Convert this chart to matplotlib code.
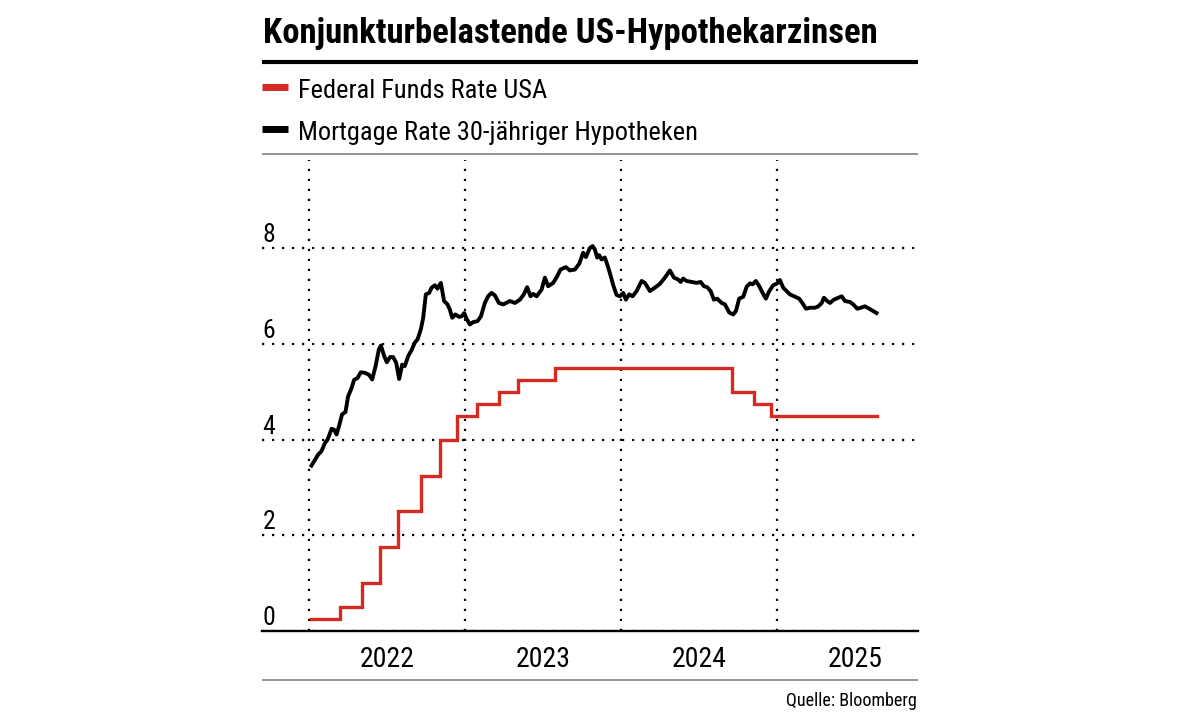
import matplotlib
matplotlib.use("Agg")
import matplotlib.pyplot as plt
from matplotlib import font_manager as fm
from matplotlib.lines import Line2D
from matplotlib.transforms import offset_copy

# ---------------- data ----------------
title = "Konjunkturbelastende US-Hypothekarzinsen"
label_fed = "Federal Funds Rate USA"
label_mort = "Mortgage Rate 30-jähriger Hypotheken"
source = "Quelle: Bloomberg"

year_ticks = [2022, 2023, 2024, 2025]
year_labels = ["2022", "2023", "2024", "2025"]
y_ticks = [0, 2, 4, 6, 8]
y_labels = ["0", "2", "4", "6", "8"]

# Federal Funds Rate (upper bound), change dates as decimal years
fed_t = [2022.015, 2022.20, 2022.34, 2022.455, 2022.57, 2022.72, 2022.84, 2022.95,
         2023.08, 2023.22, 2023.34, 2023.58, 2024.71, 2024.85, 2024.96, 2025.64]
fed_v = [0.25, 0.5, 1.0, 1.75, 2.5, 3.25, 4.0, 4.5,
         4.75, 5.0, 5.25, 5.5, 5.0, 4.75, 4.5, 4.5]

# 30-year mortgage rate
mort_t = [2022.017, 2022.060, 2022.081, 2022.103, 2022.120, 2022.146, 2022.162, 2022.178,
          2022.199, 2022.213, 2022.235, 2022.252, 2022.274, 2022.290, 2022.312, 2022.333,
          2022.359, 2022.385, 2022.406, 2022.428, 2022.449, 2022.462, 2022.483, 2022.500,
          2022.521, 2022.540, 2022.560, 2022.579, 2022.598, 2022.615, 2022.637, 2022.658,
          2022.679, 2022.697, 2022.718, 2022.733, 2022.750, 2022.771, 2022.787, 2022.808,
          2022.825, 2022.846, 2022.867, 2022.889, 2022.904, 2022.919, 2022.940, 2022.962,
          2022.979, 2022.996, 2023.011, 2023.032, 2023.053, 2023.081, 2023.103, 2023.128,
          2023.149, 2023.171, 2023.192, 2023.218, 2023.246, 2023.288, 2023.321, 2023.353,
          2023.378, 2023.399, 2023.421, 2023.438, 2023.460, 2023.492, 2023.513, 2023.534,
          2023.566, 2023.592, 2023.613, 2023.647, 2023.673, 2023.705, 2023.733, 2023.758,
          2023.776, 2023.801, 2023.819, 2023.833, 2023.848, 2023.861, 2023.876, 2023.897,
          2023.912, 2023.929, 2023.951, 2023.972, 2023.994, 2024.015, 2024.032, 2024.053,
          2024.075, 2024.101, 2024.133, 2024.154, 2024.186, 2024.218, 2024.250, 2024.282,
          2024.314, 2024.340, 2024.367, 2024.383, 2024.399, 2024.421, 2024.453, 2024.485,
          2024.511, 2024.532, 2024.553, 2024.575, 2024.596, 2024.617, 2024.646, 2024.667,
          2024.694, 2024.720, 2024.737, 2024.758, 2024.784, 2024.806, 2024.827, 2024.844,
          2024.865, 2024.887, 2024.908, 2024.929, 2024.951, 2024.976, 2025.002, 2025.019,
          2025.040, 2025.062, 2025.083, 2025.109, 2025.143, 2025.165, 2025.186, 2025.212,
          2025.244, 2025.265, 2025.287, 2025.301, 2025.322, 2025.340, 2025.365, 2025.393,
          2025.415, 2025.436, 2025.468, 2025.489, 2025.515, 2025.537, 2025.564, 2025.592,
          2025.617, 2025.638]
mort_v = [3.46, 3.69, 3.76, 3.93, 4.00, 4.23, 4.21, 4.11,
          4.35, 4.53, 4.58, 4.91, 5.08, 5.25, 5.29, 5.41,
          5.40, 5.36, 5.26, 5.54, 5.89, 5.97, 5.75, 5.62,
          5.73, 5.73, 5.61, 5.27, 5.57, 5.54, 5.75, 5.87,
          6.03, 6.10, 6.31, 6.55, 7.04, 7.07, 7.18, 7.23,
          7.16, 7.28, 6.90, 6.83, 6.72, 6.55, 6.62, 6.57,
          6.58, 6.65, 6.53, 6.41, 6.46, 6.48, 6.58, 6.86,
          7.00, 7.07, 7.02, 6.86, 6.83, 6.90, 6.86, 6.93,
          7.04, 7.19, 7.00, 7.05, 7.00, 7.14, 7.39, 7.21,
          7.28, 7.42, 7.56, 7.61, 7.54, 7.56, 7.68, 7.91,
          7.82, 8.01, 8.05, 7.98, 7.81, 7.86, 7.77, 7.81,
          7.67, 7.49, 7.23, 7.03, 7.00, 7.07, 6.93, 7.04,
          7.00, 7.11, 7.32, 7.28, 7.11, 7.18, 7.26, 7.39,
          7.54, 7.39, 7.35, 7.30, 7.37, 7.32, 7.30, 7.28,
          7.30, 7.21, 7.19, 7.11, 6.93, 6.95, 6.86, 6.83,
          6.66, 6.62, 6.69, 6.95, 6.99, 7.20, 7.27, 7.25,
          7.32, 7.21, 7.07, 6.95, 7.11, 7.23, 7.27, 7.34,
          7.18, 7.11, 7.04, 7.00, 6.95, 6.85, 6.74, 6.76,
          6.76, 6.79, 6.86, 6.97, 6.90, 6.86, 6.93, 6.97,
          7.00, 6.90, 6.88, 6.83, 6.74, 6.76, 6.79, 6.74,
          6.69, 6.65]

RED = "#d42a22"
GRAY = "#8a8a8a"

# ---------------- fonts ----------------
avail = {f.name for f in fm.fontManager.ttflist}
narrow = None
for cand in ["Roboto Condensed", "Liberation Sans Narrow", "Open Sans Condensed", "Roboto"]:
    if cand in avail:
        narrow = cand
        break
if narrow is None:
    narrow = "DejaVu Sans"
plt.rcParams["font.family"] = [narrow, "DejaVu Sans"]

W, H = 1179, 713
fig = plt.figure(figsize=(W / 100, H / 100), dpi=100)
fig.patch.set_facecolor("white")


def fx(px):
    return px / W


def fy(py):
    return 1 - py / H


L, R, T, B = 262, 918, 160, 631
ax = fig.add_axes([fx(L), fy(B), (R - L) / W, (B - T) / H])
ax.set_xlim(2021.70, 2025.904)
ax.set_ylim(0, 9.85)

for s in ["top", "right", "left"]:
    ax.spines[s].set_visible(False)
ax.spines["bottom"].set_linewidth(1.7)
ax.spines["bottom"].set_color("black")

dot = (0, (1, 3.5))
# horizontal dotted grid
ax.set_yticks(y_ticks)
ax.set_yticklabels([])
ax.tick_params(axis="y", length=0)
ax.grid(axis="y", which="major", color="black", linestyle=dot, linewidth=1.6)
# vertical dotted grid at year boundaries
ax.set_xticks(year_ticks, minor=True)
ax.set_xticks([y + 0.5 for y in year_ticks])
ax.set_xticklabels(year_labels, fontsize=20)
ax.tick_params(axis="x", which="both", length=0, pad=11)
ax.grid(axis="x", which="minor", color="black", linestyle=dot, linewidth=1.6)
ax.set_axisbelow(True)

# y labels above gridlines
tr = offset_copy(ax.get_yaxis_transform(), fig=fig, x=0.5, y=6, units="dots")
for v, lab in zip(y_ticks, y_labels):
    ax.text(0.0, v, lab, transform=tr, ha="left", va="baseline", fontsize=18.5)

# data
ax.step(fed_t, fed_v, where="post", color=RED, linewidth=2.4, solid_joinstyle="miter")
ax.plot(mort_t, mort_v, color="black", linewidth=2.8, solid_joinstyle="round")

# ---------------- header / footer ----------------
def hline(py, lw, color, x0=L, x1=R):
    fig.add_artist(Line2D([fx(x0), fx(x1)], [fy(py), fy(py)], transform=fig.transFigure,
                          color=color, linewidth=lw, solid_capstyle="butt"))


hline(62, 3.0, "black")
hline(153.5, 1.3, GRAY)
hline(679.5, 1.3, GRAY)

t_title = fig.text(fx(263), fy(43.5), title, fontsize=27, fontweight="bold", ha="left", va="baseline")
t_leg1 = fig.text(fx(298), fy(98.5), label_fed, fontsize=20, ha="left", va="baseline")
t_leg2 = fig.text(fx(298), fy(140), label_mort, fontsize=20, ha="left", va="baseline")
t_src = fig.text(fx(917), fy(706), source, fontsize=13.5, ha="right", va="baseline")

hline(86.5, 5.0, RED, 262, 288)
hline(128.5, 5.0, "black", 262, 288)

# fit text widths to the reference
fig.canvas.draw()
rend = fig.canvas.get_renderer()


def fit(t, target):
    w = t.get_window_extent(rend).width
    t.set_fontsize(t.get_fontsize() * target / w)


fit(t_title, 615)
fit(t_leg1, 249)
t_leg2.set_fontsize(t_leg1.get_fontsize())
fit(t_src, 131)

fig.savefig("out.png", dpi=100)
